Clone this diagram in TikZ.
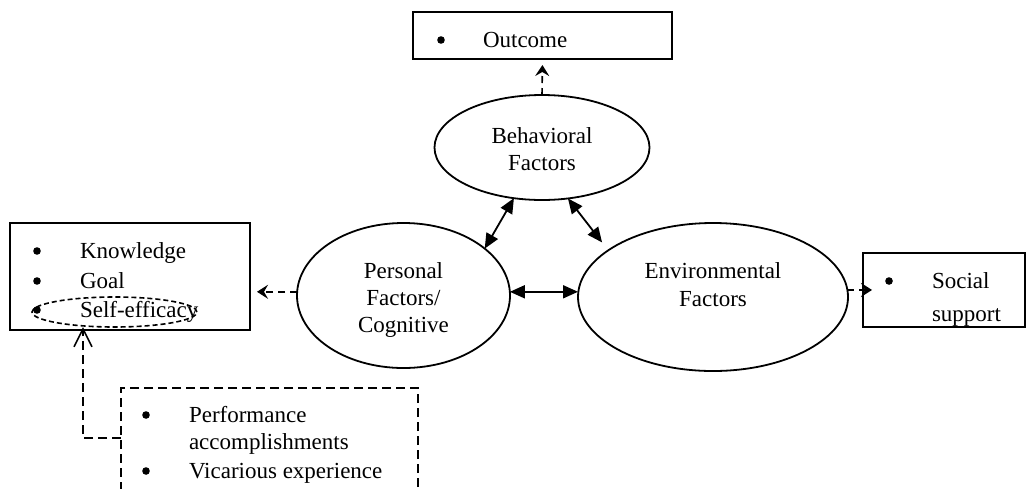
\documentclass[tikz,border=0pt]{standalone}
\usepackage{fontspec}
\setmainfont{Liberation Serif}
\usetikzlibrary{arrows.meta,shapes.geometric,calc}
\begin{document}
\begin{tikzpicture}[x=0.5pt,y=-0.5pt,
  every node/.style={inner sep=0pt,outer sep=0pt,font=\fontsize{11.5}{13.5}\selectfont},
  boxnode/.style={draw,line width=0.9pt,rectangle},
  dboxnode/.style={draw,line width=0.8pt,rectangle,dash pattern=on 4.5pt off 2.5pt},
  ellnode/.style={draw,line width=0.9pt,ellipse},
  seell/.style={draw,line width=0.8pt,ellipse,dash pattern=on 2.5pt off 1.5pt},
  txt/.style={anchor=base west},
  ctxt/.style={anchor=base},
  bul/.style={circle,fill=black,minimum size=3.8pt},
  solidarr/.style={line width=0.9pt,{Triangle[length=7.5pt,width=6.5pt]}-{Triangle[length=7.5pt,width=6.5pt]}},
  dasharr/.style={line width=0.8pt,dash pattern=on 3.5pt off 2.5pt,-{Stealth[length=5.5pt,width=7pt,inset=2pt]}},
  openarr/.style={line width=0.8pt,dash pattern=on 4.5pt off 2.5pt,-{Straight Barb[length=9pt,width=9pt]}}]
\useasboundingbox (0,0) rectangle (1027,488);
\clip (0,0) rectangle (1027,488);
% boxes
\node[boxnode,minimum width=129.5pt,minimum height=23.5pt] (out) at (542.5,35.5) {};
\node[boxnode,minimum width=120pt,minimum height=53.5pt] (lbox) at (130,276.5) {};
\node[boxnode,minimum width=81pt,minimum height=37pt] (ss) at (944,290) {};
\node[dboxnode,minimum width=148.5pt,minimum height=76pt] (dbox) at (269.5,464) {};
% ellipses
\node[ellnode,minimum width=107.5pt,minimum height=52.5pt] (beh) at (542,147.5) {};
\node[ellnode,minimum width=106.5pt,minimum height=72.5pt] (pers) at (403.5,295.5) {};
\node[ellnode,minimum width=135pt,minimum height=74pt] (env) at (713,297) {};
% ellipse texts
\node[ctxt] (behA) at (542,143) {Behavioral};
\node[ctxt] (behB) at (542,170) {Factors};
\node[ctxt] (persA) at (403.5,278) {Personal};
\node[ctxt] (persB) at (403.5,305) {Factors/};
\node[ctxt] (persC) at (403.5,332) {Cognitive};
\node[ctxt] (envA) at (713,278) {Environmental};
\node[ctxt] (envB) at (713,306) {Factors};
% outcome box text
\node[bul] (outb) at (441,40) {};
\node[txt] (outt) at (483,47) {Outcome};
% left box text
\node[bul] (kb) at (37,251) {};
\node[txt] (kt) at (80,258) {Knowledge};
\node[bul] (gb) at (37,281) {};
\node[txt] (gt) at (80,288) {Goal};
\node[bul] (sb) at (37,310) {};
\node[txt] (st) at (80,317) {Self-efficacy};
\node[seell,minimum width=82.5pt,minimum height=15pt] (se) at (114.5,312) {};
% social support text
\node[bul] (ssb) at (889,281) {};
\node[txt] (sst1) at (932,288) {Social};
\node[txt] (sst2) at (932,321) {support};
% dashed box text
\node[bul] (pb) at (146,415) {};
\node[txt] (pt1) at (189,422) {Performance};
\node[txt] (pt2) at (189,449) {accomplishments};
\node[bul] (vb) at (146,471) {};
\node[txt] (vt) at (189,478) {Vicarious experience};
% connectors
\draw[solidarr] (beh.241.9) -- (pers.30.3);
\draw[solidarr,shorten >=5pt] (beh.297.7) -- (env.156.3);
\draw[solidarr] (pers.2) -- (pers.2 -| env.west);
\draw[dasharr,shorten >=3pt] (beh.north) -- (out.south);
\draw[dasharr,shorten >=3.5pt] (pers.178) -- (pers.178 -| lbox.east);
\draw[dasharr,shorten >=-4.5pt] (env.3) -- (env.3 -| ss.west);
\coordinate (bend) at (83,438);
\draw[openarr] (dbox.west |- bend) -- (bend) -- (bend |- se.south);
\end{tikzpicture}
\end{document}
